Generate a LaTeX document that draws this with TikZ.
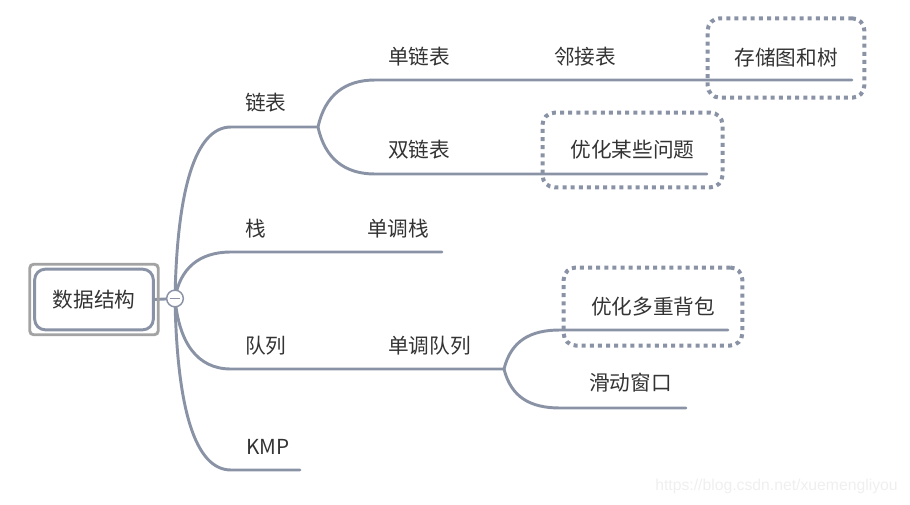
\documentclass[tikz,border=0pt]{standalone}
\usepackage{fontspec}
\setmainfont{Noto Sans CJK SC}
\newfontfamily\markfont{Liberation Sans}
\usepackage{xcolor}
\definecolor{mmline}{HTML}{8A93A6}
\definecolor{mmtext}{HTML}{333333}
\definecolor{mmframe}{HTML}{A3A3A3}
\definecolor{mmmark}{HTML}{EFEFEF}
\usetikzlibrary{positioning,fit,backgrounds,calc}
\tikzset{
  topic/.style={anchor=west,inner sep=0pt,text=mmtext,font=\fontsize{15.5}{18}\selectfont},
  branch/.style={draw=mmline,line width=2.2pt,line cap=round},
  dotbox/.style={draw=mmline,line width=3pt,dash pattern=on 3pt off 3.1pt,
    rounded corners=9pt,text=mmtext,font=\fontsize{15.5}{18}\selectfont},
}
\begin{document}
\begin{tikzpicture}[x=0.75pt,y=-0.75pt]
\useasboundingbox (0,0) rectangle (910,504);

% central topic
\node (root) [draw=mmline,line width=2.2pt,rounded corners=8pt,fill=white,
  minimum width=89pt,minimum height=45.5pt,text=mmtext,
  font=\fontsize{15.5}{18}\selectfont] at (94,299.5) {数据结构};
\node (rootframe) [draw=mmframe,line width=2.2pt,rounded corners=3pt,
  inner sep=2.6pt,fit=(root)] {};
\node (hub) [circle,draw=mmline,fill=white,line width=1.1pt,minimum size=12.5pt,
  inner sep=0pt,path picture={\draw[mmline,line width=1pt]
  ([xshift=-4pt]path picture bounding box.center) --
  ([xshift=4pt]path picture bounding box.center);}] at (175,298.5) {};

% highlighted leaves
\node (cunchu) [dotbox,minimum width=117.5pt,minimum height=59.5pt] at (786,58) {存储图和树};
\node (youhua1) [dotbox,minimum width=135pt,minimum height=56pt] at (632.5,150) {优化某些问题};
\node (youhua2) [dotbox,minimum width=134pt,minimum height=58.5pt] at (653,306.5) {优化多重背包};

% topics
\node (lianbiao) [topic] at (245,103) {链表};
\node (zhan) [topic] at (245,229) {栈};
\node (duilie) [topic] at (245,346) {队列};
\node (kmp) [topic] at (246,447) {KMP};
\node (danlian) [topic] at (388,57) {单链表};
\node (linjie) [topic] at (554,57) {邻接表};
\node (shuanglian) [topic] at (388,150) {双链表};
\node (dzhan) [topic] at (367,229) {单调栈};
\node (ddui) [topic] at (388,346) {单调队列};
\node (huadong) [topic] at (589,383) {滑动窗口};

\node (mark) [text=mmmark,font=\markfont\fontsize{11.8}{14}\selectfont,inner sep=0pt]
  at (776.5,486) {https://blog.csdn.net/xuemengliyou};

% underline ends and joints
\coordinate (l1s) at (231,127);
\coordinate (j1) at (318,127);
\coordinate (l2s) at (231,252);
\coordinate (l2e) at (442,252);
\coordinate (l3s) at (231,369);
\coordinate (j3) at (504,369);
\coordinate (l4s) at (231,470);
\coordinate (l4e) at (300,470);
\coordinate (a1s) at (375,80);
\coordinate (a1e) at (852,80);
\coordinate (a2s) at (375,174);
\coordinate (a2e) at (707,174);
\coordinate (c1s) at (560,330);
\coordinate (c1e) at (728,330);
\coordinate (c2s) at (560,408);
\coordinate (c2e) at (686,408);

\begin{scope}[on background layer]
\draw[branch] (root.east) -- (hub.center);
\draw[branch] (hub.center) .. controls +(2,-108) and +(-36,0) .. (l1s) -- (j1);
\draw[branch] (hub.center) .. controls +(5,-30) and +(-32,0) .. (l2s) -- (l2e);
\draw[branch] (hub.center) .. controls +(4,44) and +(-34,0) .. (l3s) -- (j3);
\draw[branch] (hub.center) .. controls +(2,110) and +(-36,0) .. (l4s) -- (l4e);
\draw[branch] (j1) .. controls +(7,-32) and +(-30,0) .. (a1s) -- (a1e);
\draw[branch] (j1) .. controls +(7,32) and +(-30,0) .. (a2s) -- (a2e);
\draw[branch] (j3) .. controls +(7,-28) and +(-30,0) .. (c1s) -- (c1e);
\draw[branch] (j3) .. controls +(7,28) and +(-30,0) .. (c2s) -- (c2e);
\end{scope}
\end{tikzpicture}
\end{document}
